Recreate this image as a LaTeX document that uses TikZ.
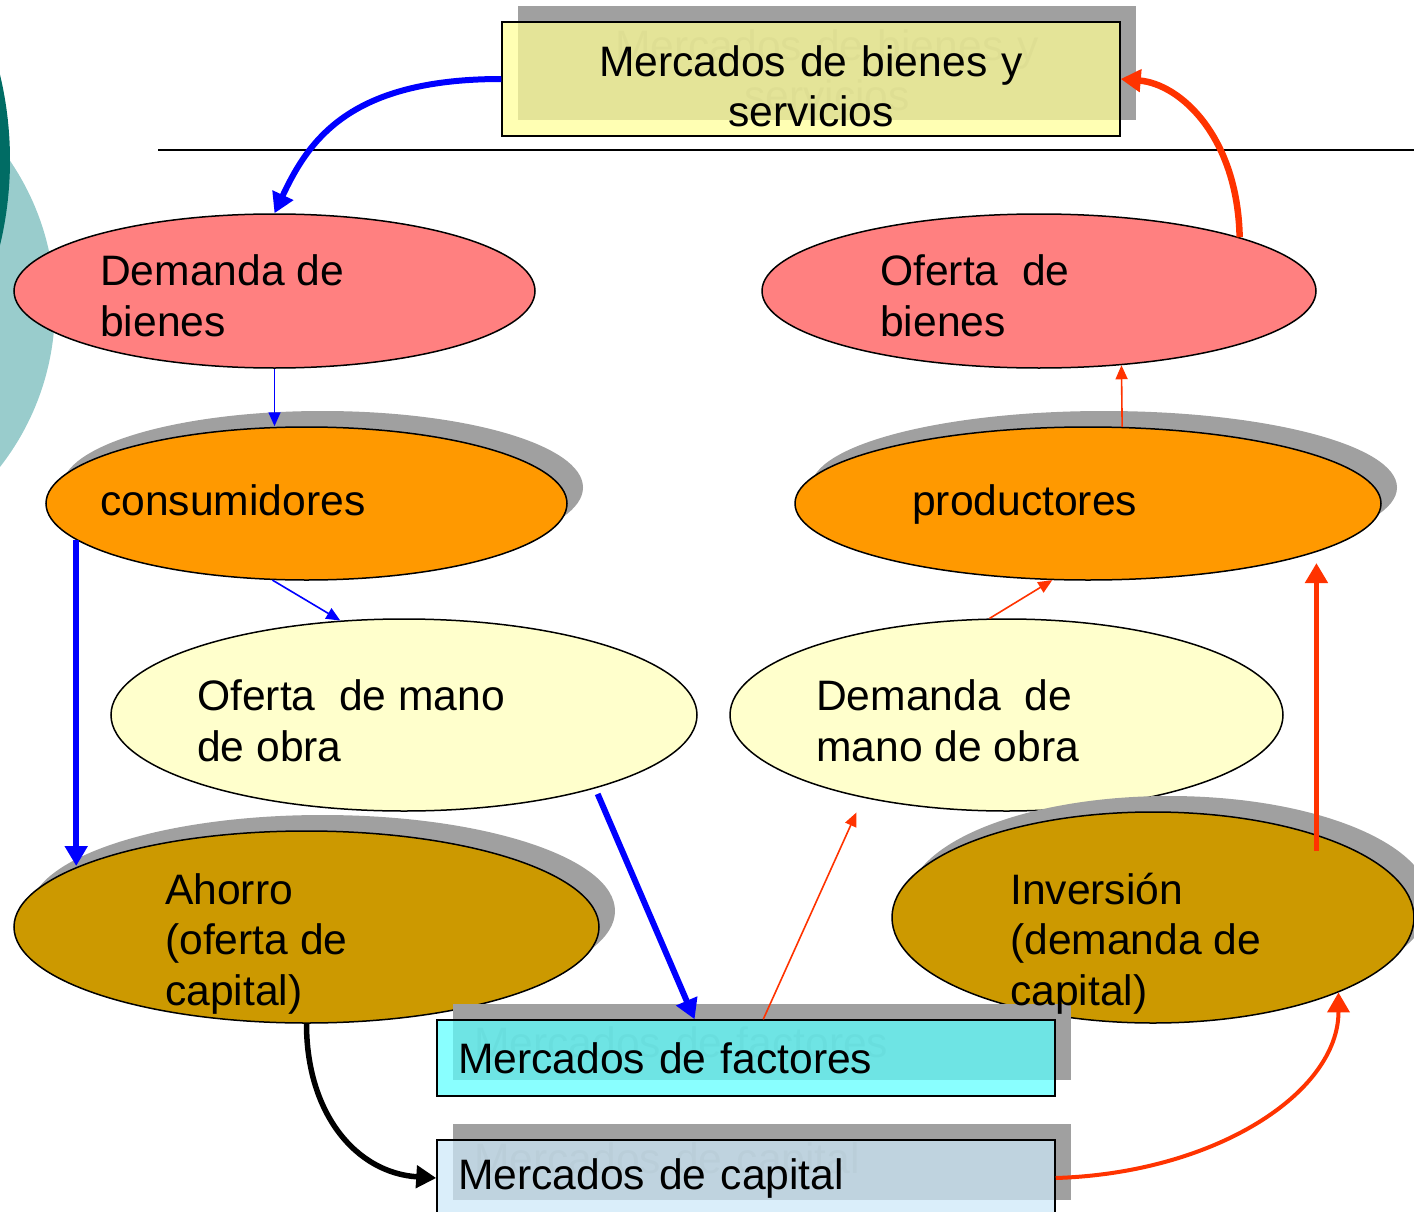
\documentclass[tikz,border=0pt]{standalone}
\usepackage{fontspec}
\setmainfont{Liberation Sans}
\usetikzlibrary{shapes.geometric,shadows,arrows.meta}
\definecolor{flowBlue}{RGB}{0,0,255}
\definecolor{flowRed}{RGB}{255,51,0}
\definecolor{bienesPink}{RGB}{255,128,128}
\definecolor{agentOrange}{RGB}{255,153,0}
\definecolor{trabajoYellow}{RGB}{255,255,204}
\definecolor{capitalGold}{RGB}{204,153,0}
\definecolor{shadeGray}{RGB}{160,160,160}
\definecolor{tealDark}{RGB}{0,108,100}
\definecolor{tealLight}{RGB}{153,204,204}
\definecolor{boxYellow}{RGB}{255,255,150}
\definecolor{boxCyan}{RGB}{92,255,255}
\definecolor{boxBlue}{RGB}{204,232,248}
\tikzset{
  txt/.style={font=\fontsize{42.6}{50.5}\selectfont, align=left, inner sep=0pt, anchor=base west},
  oval/.style={ellipse, draw=black, line width=1.5pt, inner sep=0pt},
  shaded/.style={drop shadow={shadow xshift=16pt, shadow yshift=16pt, fill=shadeGray, opacity=1}},
  mktbase/.style={rectangle, minimum width=618pt, minimum height=76pt, text width=576pt,
    inner xsep=21pt, inner ysep=0pt, align=left, font=\fontsize{42.6}{50.5}\selectfont},
  mkt/.style={mktbase, draw=black, line width=1.5pt, fill opacity=0.72, text opacity=1},
  mktshade/.style={mktbase, fill=shadeGray, text=black!45},
  flowthin/.style={line width=1.6pt, -{Triangle[length=14pt,width=12pt]}},
  flowthick/.style={line width=5pt, -{Triangle[length=20pt,width=22pt]}},
}
\NewDocumentCommand\DrawMarket{mmmmO{}}%
{%
\node[mktshade,#5] (#1s) at ([shift={(16,-16)}]#2) {#3};%
\node[mkt,fill=#4,#5] (#1) at (#2) {#3};%
}

\begin{document}
\begin{tikzpicture}[x=1pt,y=-1pt]
\path[use as bounding box, clip] (0,0) rectangle (1414,1212);
\fill[tealLight] (-205,307) circle[radius=260];
\fill[tealDark] (-356,160) circle[radius=366];
\draw[line width=2pt] (158,150) -- (1414,150);

% bienes
\node[oval, fill=bienesPink, minimum width=521pt, minimum height=154pt] (dem) at (274.5,291) {};
\node[oval, fill=bienesPink, minimum width=554pt, minimum height=154pt] (ofb) at (1039,291) {};
% agentes
\node[oval, shaded, fill=agentOrange, minimum width=521pt, minimum height=153pt] (cons) at (306.5,503.5) {};
\node[oval, shaded, fill=agentOrange, minimum width=586pt, minimum height=153pt] (prod) at (1088,503.5) {};
% trabajo
\node[oval, fill=trabajoYellow, minimum width=586pt, minimum height=192pt] (omo) at (404,715) {};
\node[oval, fill=trabajoYellow, minimum width=553pt, minimum height=192pt] (dmo) at (1006.5,715) {};
% capital
\node[oval, shaded, fill=capitalGold, minimum width=585pt, minimum height=192pt] (ahor) at (306.5,927) {};
\node[oval, shaded, fill=capitalGold, minimum width=522pt, minimum height=211pt] (inv) at (1153,917.5) {};

% mercados
\DrawMarket{mbs}{811,79}{\rule{0pt}{45pt}Mercados de bienes y\\servicios}{boxYellow}[minimum height=114pt, align=center]
\DrawMarket{fct}{746,1058}{Mercados de factores}{boxCyan}
\DrawMarket{cap}{746,1178}{Mercados de capital}{boxBlue}

\node[txt] (demT) at (100,336) {Demanda de\\bienes};
\node[txt] (ofbT) at (880,336) {Oferta~ de\\bienes};
\node[txt] (consT) at (100,515) {consumidores};
\node[txt] (prodT) at (912,515) {productores};
\node[txt] (omoT) at (197,761) {Oferta~ de mano\\de obra};
\node[txt] (dmoT) at (816,761) {Demanda~ de\\mano de obra};
\node[txt] (ahorT) at (165,1005) {Ahorro\\(oferta de\\capital)};
\node[txt] (invT) at (1010,1005) {Inversión\\(demanda de\\capital)};

% flujos
\draw[flowthick, flowBlue, line width=6pt] (mbs.west) .. controls +(-150,0) and +(35,-75) .. (dem.north);
\draw[flowthin, flowBlue] (dem.south) -- (dem.south |- cons.north);
\draw[flowthick, flowBlue, line width=6pt] (cons.189) -- (cons.189 |- ahor.165);
\draw[flowthin, flowBlue] (cons.246.8) -- (omo.124.2);
\draw[flowthick, flowBlue, line width=6pt, shorten <=6pt] (omo.339.7) -- (fct.143.3);
\draw[flowthick, black, line width=5.5pt] (ahor.south) .. controls +(0,90) and +(-80,-5) .. (cap.west);
\draw[flowthick, flowRed, line width=4pt] (cap.east) .. controls +(160,-5) and +(0,100) .. (inv.338.1);
\draw[flowthin, flowRed, shorten >=16pt] (fct.66) -- (dmo.210.5);
\draw[flowthin, flowRed] (dmo.100.3) -- (prod.245.9);
\draw[flowthick, flowRed, shorten <=-15pt, shorten >=11pt] (prod.348.1 |- inv.26.8) -- (prod.348.1);
\draw[flowthin, flowRed] (prod.66.5) -- (ofb.318.1);
\draw[flowthick, flowRed, line width=6.5pt] (ofb.15.1) .. controls +(-2,-100) and +(60,5) .. (mbs.east);
\end{tikzpicture}
\end{document}
